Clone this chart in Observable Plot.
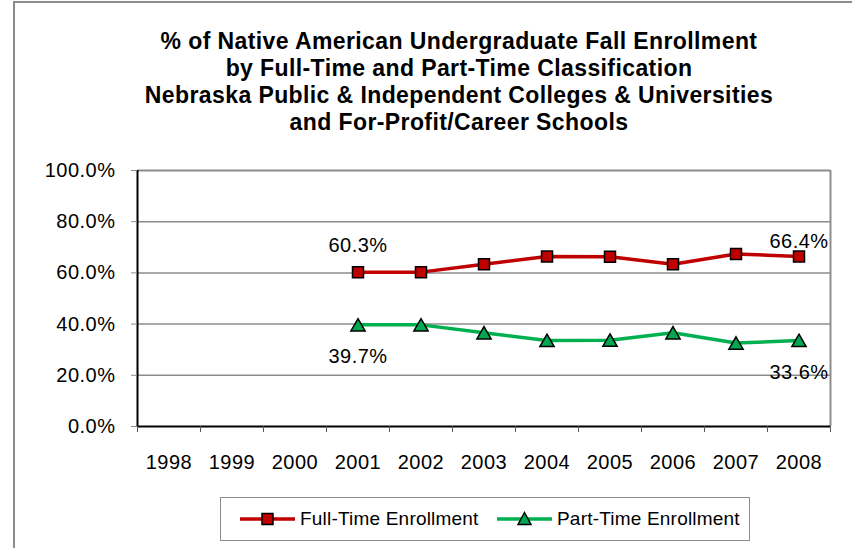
<!DOCTYPE html>
<html>
<head>
<meta charset="utf-8">
<script src="https://cdn.jsdelivr.net/npm/d3@7"></script>
<script src="https://cdn.jsdelivr.net/npm/@observablehq/plot@0.6"></script>
<style>
  body { margin: 0; background: #fff; font-family: "Liberation Sans", Arial, sans-serif; }
  #wrap { position: relative; width: 852px; height: 548px; overflow: hidden; background: #fff; }
  #border { position: absolute; left: 13px; top: 1px; right: -10px; bottom: -10px;
            border-left: 2px solid #8c8c8c; border-top: 2px solid #8c8c8c; }
  #title { position: absolute; left: 59px; width: 800px; top: 28px; text-align: center;
           font-weight: bold; font-size: 23px; line-height: 27px; letter-spacing: 0.4px; color: #000; }
  #chart { position: absolute; left: 0; top: 150px; }
  #legend { position: absolute; left: 220px; top: 497px; width: 530px; height: 44px;
            box-sizing: border-box; border: 1px solid #8c8c8c; background: #fff; }
  .item { position: absolute; top: 0; height: 42px; display: flex; align-items: center;
          font-size: 19px; letter-spacing: 0.2px; color: #000; }
  .item svg { margin-right: 4px; }
</style>
</head>
<body>
<div id="wrap">
  <div id="border"></div>
  <div id="title"></div>
  <div id="chart"></div>
  <div id="legend"></div>
</div>
<script>
// ---- data ----
const titleLines = [
  "% of Native American Undergraduate Fall Enrollment",
  "by Full-Time and Part-Time Classification",
  "Nebraska Public & Independent Colleges & Universities",
  "and For-Profit/Career Schools"
];
const years = [1998, 1999, 2000, 2001, 2002, 2003, 2004, 2005, 2006, 2007, 2008];
const dataYears = [2001, 2002, 2003, 2004, 2005, 2006, 2007, 2008];
const fullTime = [60.3, 60.3, 63.4, 66.4, 66.3, 63.4, 67.4, 66.4];
const partTime = [39.7, 39.7, 36.6, 33.6, 33.7, 36.6, 32.6, 33.6];
const yTicks = [0, 20, 40, 60, 80, 100];
const seriesNames = ["Full-Time Enrollment", "Part-Time Enrollment"];

const RED = "#C00000", GREEN = "#00B050", GREEN_FILL = "#00A651";

document.getElementById("title").innerHTML = titleLines.join("<br>");

const ft = dataYears.map((year, i) => ({year, value: fullTime[i]}));
const pt = dataYears.map((year, i) => ({year, value: partTime[i]}));
const bounds = years.map(y => y - 0.5).concat([years[years.length - 1] + 0.5]);
const fmt = d => d.toFixed(1) + "%";

const chart = Plot.plot({
  width: 852,
  height: 330,
  marginTop: 20,
  marginBottom: 54,
  marginLeft: 137,
  marginRight: 22,
  x: {type: "linear", domain: [bounds[0], bounds[bounds.length - 1]]},
  y: {domain: [0, 100]},
  style: {fontFamily: "'Liberation Sans', Arial, sans-serif", fontSize: "20px", letterSpacing: "0.5px",
          color: "#000", background: "transparent", overflow: "visible"},
  marks: [
    Plot.ruleY(yTicks.slice(1, -1), {stroke: "#8c8c8c", strokeWidth: 1.5}),
    Plot.ruleY([yTicks[yTicks.length - 1]], {stroke: "#8c8c8c", strokeWidth: 2}),
    Plot.ruleX([bounds[bounds.length - 1]], {stroke: "#8c8c8c", strokeWidth: 2}),
    Plot.ruleX([bounds[0]], {stroke: "#000", strokeWidth: 2}),
    Plot.ruleY([0], {stroke: "#000", strokeWidth: 2}),
    Plot.axisY({ticks: yTicks, tickFormat: fmt, tickSize: 6, tickPadding: 16, stroke: "#8c8c8c", fontSize: 20, label: null}),
    Plot.axisX({ticks: bounds, tickFormat: () => "", tickSize: 6, stroke: "#555", label: null}),
    Plot.axisX({ticks: years, tickFormat: d => String(d), tickSize: 0, tickPadding: 28, fontSize: 20, label: null}),
    Plot.line(ft, {x: "year", y: "value", stroke: RED, strokeWidth: 3.5}),
    Plot.line(pt, {x: "year", y: "value", stroke: GREEN, strokeWidth: 3.5}),
    Plot.dot(ft, {x: "year", y: "value", symbol: "square", r: 6.2, fill: RED, stroke: "#000", strokeWidth: 1.5}),
    Plot.dot(pt, {x: "year", y: "value", symbol: "triangle", r: 5.3, fill: GREEN_FILL, stroke: "#000", strokeWidth: 1.5, dy: 2}),
    Plot.text([ft[0]], {x: "year", y: "value", text: d => fmt(d.value), dy: -27, fontSize: 20}),
    Plot.text([ft[ft.length - 1]], {x: "year", y: "value", text: d => fmt(d.value), dy: -15, fontSize: 20}),
    Plot.text([pt[0]], {x: "year", y: "value", text: d => fmt(d.value), dy: 32, fontSize: 20}),
    Plot.text([pt[pt.length - 1]], {x: "year", y: "value", text: d => fmt(d.value), dy: 32, fontSize: 20})
  ]
});
document.getElementById("chart").appendChild(chart);

// ---- legend ----
const legend = document.getElementById("legend");
const swatch = (color, fill, shape) => {
  const marker = shape === "square"
    ? `<rect x="22" y="4.5" width="11" height="11" fill="${fill}" stroke="#000" stroke-width="1.5"/>`
    : `<path d="M27.5,3.5 L34,15.5 L21,15.5 Z" fill="${fill}" stroke="#000" stroke-width="1.5"/>`;
  return `<svg width="56" height="20"><line x1="0" y1="10" x2="55" y2="10" stroke="${color}" stroke-width="3.5"/>${marker}</svg>`;
};
const items = [
  {left: 19, html: swatch(RED, RED, "square") + seriesNames[0]},
  {left: 276, html: swatch(GREEN, GREEN_FILL, "triangle") + seriesNames[1]}
];
items.forEach(it => {
  const d = document.createElement("div");
  d.className = "item";
  d.style.left = it.left + "px";
  d.innerHTML = it.html;
  legend.appendChild(d);
});
</script>
</body>
</html>
